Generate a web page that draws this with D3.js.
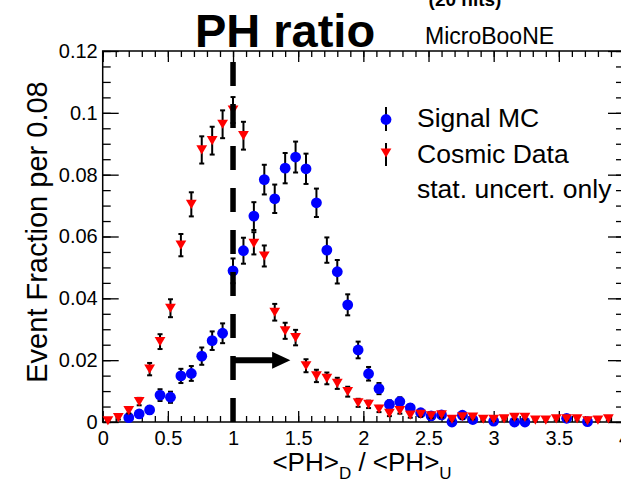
<!DOCTYPE html>
<html>
<head>
<meta charset="utf-8">
<script src="https://cdn.jsdelivr.net/npm/d3@7"></script>
<style>
  html, body { margin: 0; padding: 0; background: #fff; overflow: hidden; }
  svg { display: block; }
  text { font-family: "Liberation Sans", Arial, Helvetica, sans-serif; fill: #000; }
</style>
</head>
<body>
<svg id="chart" width="621" height="483"></svg>
<script>
// ---- data ----
const binCenters = [0.04,0.12,0.20,0.28,0.36,0.44,0.52,0.60,0.68,0.76,
                    0.84,0.92,1.00,1.08,1.16,1.24,1.32,1.40,1.48,1.56,
                    1.64,1.72,1.80,1.88,1.96,2.04,2.12,2.20,2.28,2.36,
                    2.44,2.52,2.60,2.68,2.76,2.84,2.92,3.00,3.08,3.16,
                    3.24,3.32,3.40,3.48,3.56,3.64,3.72,3.80,3.88,3.96];

const signalMC = [null,null,0.0014,0.0026,0.0039,0.0087,0.0080,0.0149,0.0157,0.0213,
                  0.0263,0.0287,0.0489,0.0554,0.0666,0.0784,0.0722,0.0821,0.0857,0.0819,
                  0.0709,0.0556,0.0486,0.0379,0.0233,0.0156,0.0108,0.0057,0.0066,0.0046,
                  0.0030,0.0020,0.0023,0.0000,0.0022,0.0008,null,0.0003,null,0.0000,
                  0.0000,null,null,null,0.0012,null,0.0001,null,null,null];
const signalErr = [null,null,0.0008,0.0011,0.0013,0.0019,0.0018,0.0023,0.0024,0.0028,
                   0.0030,0.0032,0.0040,0.0042,0.0045,0.0048,0.0046,0.0049,0.0050,0.0049,
                   0.0046,0.0041,0.0038,0.0034,0.0027,0.0022,0.0018,0.0013,0.0014,0.0012,
                   0.0010,0.0008,0.0009,0.0002,0.0008,0.0005,null,0.0003,null,0.0000,
                   0.0000,null,null,null,0.0006,null,0.0001,null,null,null];

const cosmicData = [0.0004,0.0014,0.0037,0.0066,0.0171,0.0260,0.0368,0.0572,0.0704,0.0880,
                    0.0910,0.0963,0.1009,0.0926,0.0578,0.0537,0.0355,0.0295,0.0273,0.0182,
                    0.0149,0.0141,0.0125,0.0098,0.0062,0.0057,0.0042,0.0028,0.0037,0.0022,
                    0.0025,0.0020,0.0023,0.0009,0.0017,0.0016,0.0009,0.0009,0.0010,0.0015,
                    0.0015,0.0006,0.0006,0.0010,0.0010,0.0010,0.0004,0.0006,0.0010,null];
const cosmicErr = [0.0003,0.0006,0.0009,0.0012,0.0020,0.0024,0.0029,0.0036,0.0039,0.0044,
                   0.0045,0.0045,0.0042,0.0045,0.0036,0.0034,0.0027,0.0026,0.0025,0.0021,
                   0.0020,0.0019,0.0018,0.0016,0.0013,0.0012,0.0010,0.0009,0.0010,0.0008,
                   0.0008,0.0007,0.0008,0.0005,0.0007,0.0007,0.0005,0.0005,0.0005,0.0006,
                   0.0006,0.0004,0.0004,0.0005,0.0005,0.0005,0.0003,0.0004,0.0005,null];

const xMajorTicks = [0,0.5,1,1.5,2,2.5,3,3.5,4];
const xTickLabels = ["0","0.5","1","1.5","2","2.5","3","3.5","4"];
const yMajorTicks = [0,0.02,0.04,0.06,0.08,0.10,0.12];
const yTickLabels = ["0","0.02","0.04","0.06","0.08","0.1","0.12"];

const legendLabels = ["Signal MC","Cosmic Data","stat. uncert. only"];
const cutValue = 1.0;
const cutLineTop = 0.1165;
const arrowY = 0.02;
const arrowHeadStart = 1.30;
const arrowTip = 1.44;

// ---- layout ----
const svg = d3.select("#chart");
const L = 102.7, R = 624, T = 51, B = 422;
const x = d3.scaleLinear().domain([0,4]).range([L,R]);
const y = d3.scaleLinear().domain([0,0.12]).range([B,T]);

const blue = "#0000ff", red = "#ff0000";

// minor ticks
const xMinor = d3.range(0, 4.0001, 0.1).map(v => +v.toFixed(2));
const yMinor = d3.range(0, 0.12001, 0.005).map(v => +v.toFixed(4));

function styleAxis(g){
  g.select(".domain").remove();
  g.selectAll(".tick line").attr("stroke","#000").attr("stroke-width",1.3);
}

// bottom axis
svg.append("g").attr("transform",`translate(0,${B})`)
  .call(d3.axisBottom(x).tickValues(xMinor).tickSize(-6).tickFormat(""))
  .call(styleAxis);
svg.append("g").attr("transform",`translate(0,${B})`)
  .call(d3.axisBottom(x).tickValues(xMajorTicks).tickSize(-11).tickPadding(9)
        .tickFormat((d,i)=>xTickLabels[i]))
  .call(styleAxis)
  .call(g=>g.selectAll("text").attr("font-size",20).attr("font-family","Liberation Sans, Arial, sans-serif"));
// top axis
svg.append("g").attr("transform",`translate(0,${T})`)
  .call(d3.axisTop(x).tickValues(xMinor).tickSize(-6).tickFormat(""))
  .call(styleAxis);
svg.append("g").attr("transform",`translate(0,${T})`)
  .call(d3.axisTop(x).tickValues(xMajorTicks).tickSize(-11).tickFormat(""))
  .call(styleAxis);
// left axis
svg.append("g").attr("transform",`translate(${L},0)`)
  .call(d3.axisLeft(y).tickValues(yMinor).tickSize(-8).tickFormat(""))
  .call(styleAxis);
svg.append("g").attr("transform",`translate(${L},0)`)
  .call(d3.axisLeft(y).tickValues(yMajorTicks).tickSize(-16).tickPadding(5)
        .tickFormat((d,i)=>yTickLabels[i]))
  .call(styleAxis)
  .call(g=>g.selectAll("text").attr("font-size",20).attr("font-family","Liberation Sans, Arial, sans-serif"));
// right axis
svg.append("g").attr("transform",`translate(${R},0)`)
  .call(d3.axisRight(y).tickValues(yMinor).tickSize(-8).tickFormat(""))
  .call(styleAxis);
svg.append("g").attr("transform",`translate(${R},0)`)
  .call(d3.axisRight(y).tickValues(yMajorTicks).tickSize(-16).tickFormat(""))
  .call(styleAxis);

// frame
svg.append("rect").attr("x",L).attr("y",T).attr("width",R-L).attr("height",B-T)
  .attr("fill","none").attr("stroke","#000").attr("stroke-width",1.5);

// ---- series ----
function drawErrors(vals, errs){
  const g = svg.append("g");
  vals.forEach((v,i)=>{
    if (v === null || errs[i] === null || errs[i] <= 0) return;
    const cx = x(binCenters[i]);
    const y1 = y(v + errs[i]), y0 = y(Math.max(0, v - errs[i]));
    g.append("line").attr("x1",cx).attr("x2",cx).attr("y1",y1).attr("y2",y0)
      .attr("stroke","#000").attr("stroke-width",2);
    [y1,y0].forEach(yy=>g.append("line").attr("x1",cx-2.5).attr("x2",cx+2.5)
      .attr("y1",yy).attr("y2",yy).attr("stroke","#000").attr("stroke-width",2));
  });
}
function triPath(cx, cy, s){
  return `M${cx-s},${cy-s*0.85}L${cx+s},${cy-s*0.85}L${cx},${cy+s*0.85}Z`;
}

drawErrors(signalMC, signalErr);
svg.append("g").selectAll("circle")
  .data(signalMC.map((v,i)=>({v,i})).filter(d=>d.v!==null))
  .join("circle")
  .attr("cx",d=>x(binCenters[d.i])).attr("cy",d=>y(d.v)).attr("r",5.4)
  .attr("fill",blue);

drawErrors(cosmicData, cosmicErr);
svg.append("g").selectAll("path")
  .data(cosmicData.map((v,i)=>({v,i})).filter(d=>d.v!==null))
  .join("path")
  .attr("d",d=>triPath(x(binCenters[d.i]), y(d.v), 5.4))
  .attr("fill",red);

// cut line
svg.append("line")
  .attr("x1",x(cutValue)).attr("x2",x(cutValue))
  .attr("y1",y(0)).attr("y2",y(cutLineTop))
  .attr("stroke","#000").attr("stroke-width",5.5).attr("stroke-dasharray","24,18");

// arrow
svg.append("line")
  .attr("x1",x(cutValue)).attr("x2",x(arrowHeadStart)+1)
  .attr("y1",y(arrowY)).attr("y2",y(arrowY))
  .attr("stroke","#000").attr("stroke-width",6);
svg.append("path")
  .attr("d",`M${x(arrowHeadStart)},${y(arrowY)-8.5}L${x(arrowTip)},${y(arrowY)}L${x(arrowHeadStart)},${y(arrowY)+8.5}Z`)
  .attr("fill","#000");

// ---- legend ----
const lg = svg.append("g");
lg.append("line").attr("x1",386).attr("x2",386).attr("y1",107).attr("y2",131)
  .attr("stroke","#000").attr("stroke-width",2);
lg.append("circle").attr("cx",386).attr("cy",119.5).attr("r",5.4).attr("fill",blue);
lg.append("line").attr("x1",386).attr("x2",386).attr("y1",143).attr("y2",166)
  .attr("stroke","#000").attr("stroke-width",2);
lg.append("path").attr("d",triPath(386,153,5.4)).attr("fill",red);
[127,163,198].forEach((yy,i)=>{
  lg.append("text").attr("x",417).attr("y",yy).attr("font-size",26.5).text(legendLabels[i]);
});

// ---- titles ----
svg.append("text").attr("x",285).attr("y",47).attr("text-anchor","middle")
  .attr("font-family","Lato, sans-serif").attr("font-weight","bold").attr("font-size",47)
  .text("PH ratio");
svg.append("text").attr("x",425).attr("y",44).attr("font-size",23).text("MicroBooNE");
svg.append("text").attr("x",465).attr("y",6).attr("text-anchor","middle")
  .attr("font-family","Lato, sans-serif").attr("font-weight","bold").attr("font-size",19)
  .text("(20 hits)");

// y title
svg.append("text").attr("transform","translate(47,232) rotate(-90)")
  .attr("text-anchor","middle").attr("font-size",29).text("Event Fraction per 0.08");

// x title
const xt = svg.append("text").attr("x",362).attr("y",471).attr("text-anchor","middle").attr("font-size",26);
xt.append("tspan").text("<PH>");
xt.append("tspan").attr("dy",8).attr("font-size",17).text("D");
xt.append("tspan").attr("dy",-8).text(" / <PH>");
xt.append("tspan").attr("dy",8).attr("font-size",17).text("U");
</script>
</body>
</html>
